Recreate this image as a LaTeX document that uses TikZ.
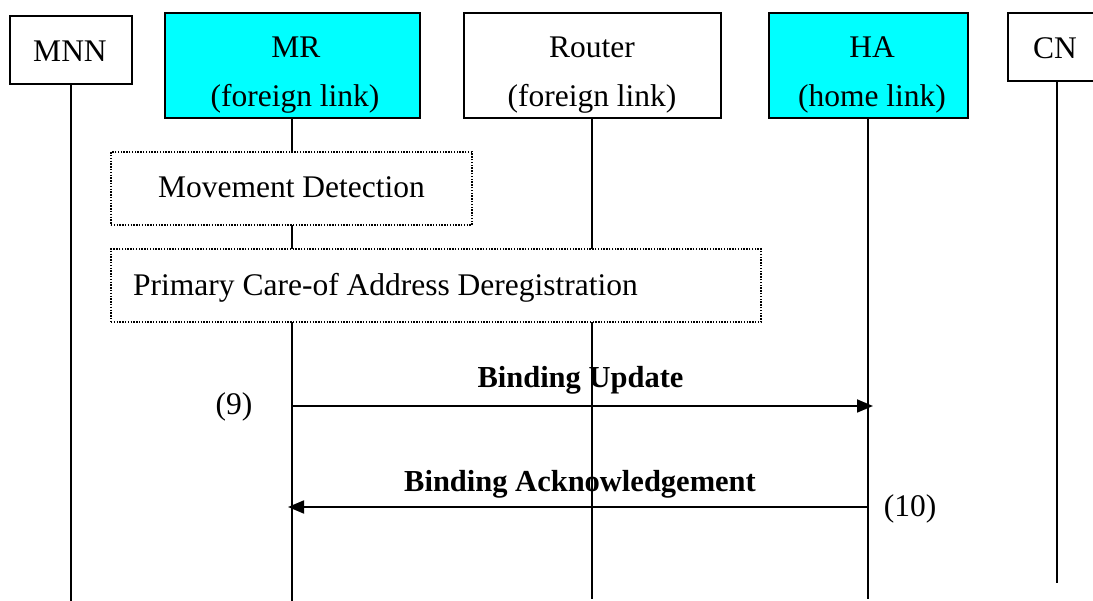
\documentclass[tikz,border=0pt]{standalone}
\usepackage{fontspec}
\setmainfont{Liberation Serif}
\usetikzlibrary{arrows.meta}
\definecolor{boxcyan}{RGB}{0,255,255}
\begin{document}
\begin{tikzpicture}[x=1pt,y=-1pt,
  ent/.style={draw=black, line width=2pt, rectangle, inner sep=0pt},
  cyanbox/.style={ent, fill=boxcyan},
  whitebox/.style={ent, fill=white},
  life/.style={line width=1.8pt},
  note/.style={draw=black, line width=1.4pt, dash pattern=on 1.4pt off 1.4pt, fill=white, inner sep=0pt},
  txt/.style={font=\fontsize{31.5}{36}\selectfont, anchor=base, inner sep=0pt},
  msgtxt/.style={font=\fontsize{30.5}{36}\selectfont\bfseries, anchor=base, inner sep=0pt},
  msg/.style={line width=1.8pt, -{Triangle[length=16pt,width=13pt]}}
]
\useasboundingbox (0,0) rectangle (1093,601);
\clip (0,0) rectangle (1093,601);

% entity boxes
\node[whitebox, minimum width=122pt, minimum height=68pt] (MNN) at (71,50) {};
\node[cyanbox, minimum width=255pt, minimum height=105pt] (MR) at (292,65.5) {};
\node[whitebox, minimum width=257pt, minimum height=105pt] (Router) at (592,65.5) {};
\node[cyanbox, minimum width=199pt, minimum height=105pt] (HA) at (868,65.5) {};
\node[whitebox, minimum width=98pt, minimum height=68pt] (CN) at (1057,47) {};

% entity texts
\node[txt] (tMNN) at (70,62) {MNN};
\node[txt] (tMR1) at (296,58) {MR};
\node[txt] (tMR2) at (295,107) {(foreign link)};
\node[txt] (tR1) at (592,58) {Router};
\node[txt] (tR2) at (592,107) {(foreign link)};
\node[txt] (tHA1) at (872,58) {HA};
\node[txt] (tHA2) at (872,107) {(home link)};
\node[txt] (tCN) at (1055,59) {CN};

% lifeline ends
\coordinate (MNNend) at (71,601);
\coordinate (MRend) at (292,601);
\coordinate (Routerend) at (592,599);
\coordinate (HAend) at (868,599);
\coordinate (CNend) at (1057,583);

\draw[life] (MNN.south) -- (MNNend);
\draw[life] (MR.south) -- (MRend);
\draw[life] (Router.south) -- (Routerend);
\draw[life] (HA.south) -- (HAend);
\draw[life] (CN.south) -- (CNend);

% dotted process boxes
\node[note, minimum width=361pt, minimum height=73pt] (MD) at (291.5,188.5) {};
\node[txt] (tMD) at (291.5,198) {Movement Detection};
\node[note, minimum width=650pt, minimum height=73pt] (PCD) at (436,285.5) {};
\node[txt, anchor=base west] (tPCD) at (133,296) {Primary Care-of Address Deregistration};

% messages
\coordinate (bu0) at (MR.south |- 0,406);
\coordinate (bu1) at ([xshift=5pt]HA.south |- 0,406);
\coordinate (ba0) at (HA.south |- 0,507);
\coordinate (ba1) at ([xshift=-4pt]MR.south |- 0,507);
\draw[msg] (bu0) -- (bu1);
\draw[msg] (ba0) -- (ba1);

\node[msgtxt] (lBU) at (580.5,388) {Binding Update};
\node[msgtxt] (lBA) at (580,492) {Binding Acknowledgement};
\node[txt] (n9) at (234,415) {(9)};
\node[txt] (n10) at (910,517) {(10)};
\end{tikzpicture}
\end{document}
